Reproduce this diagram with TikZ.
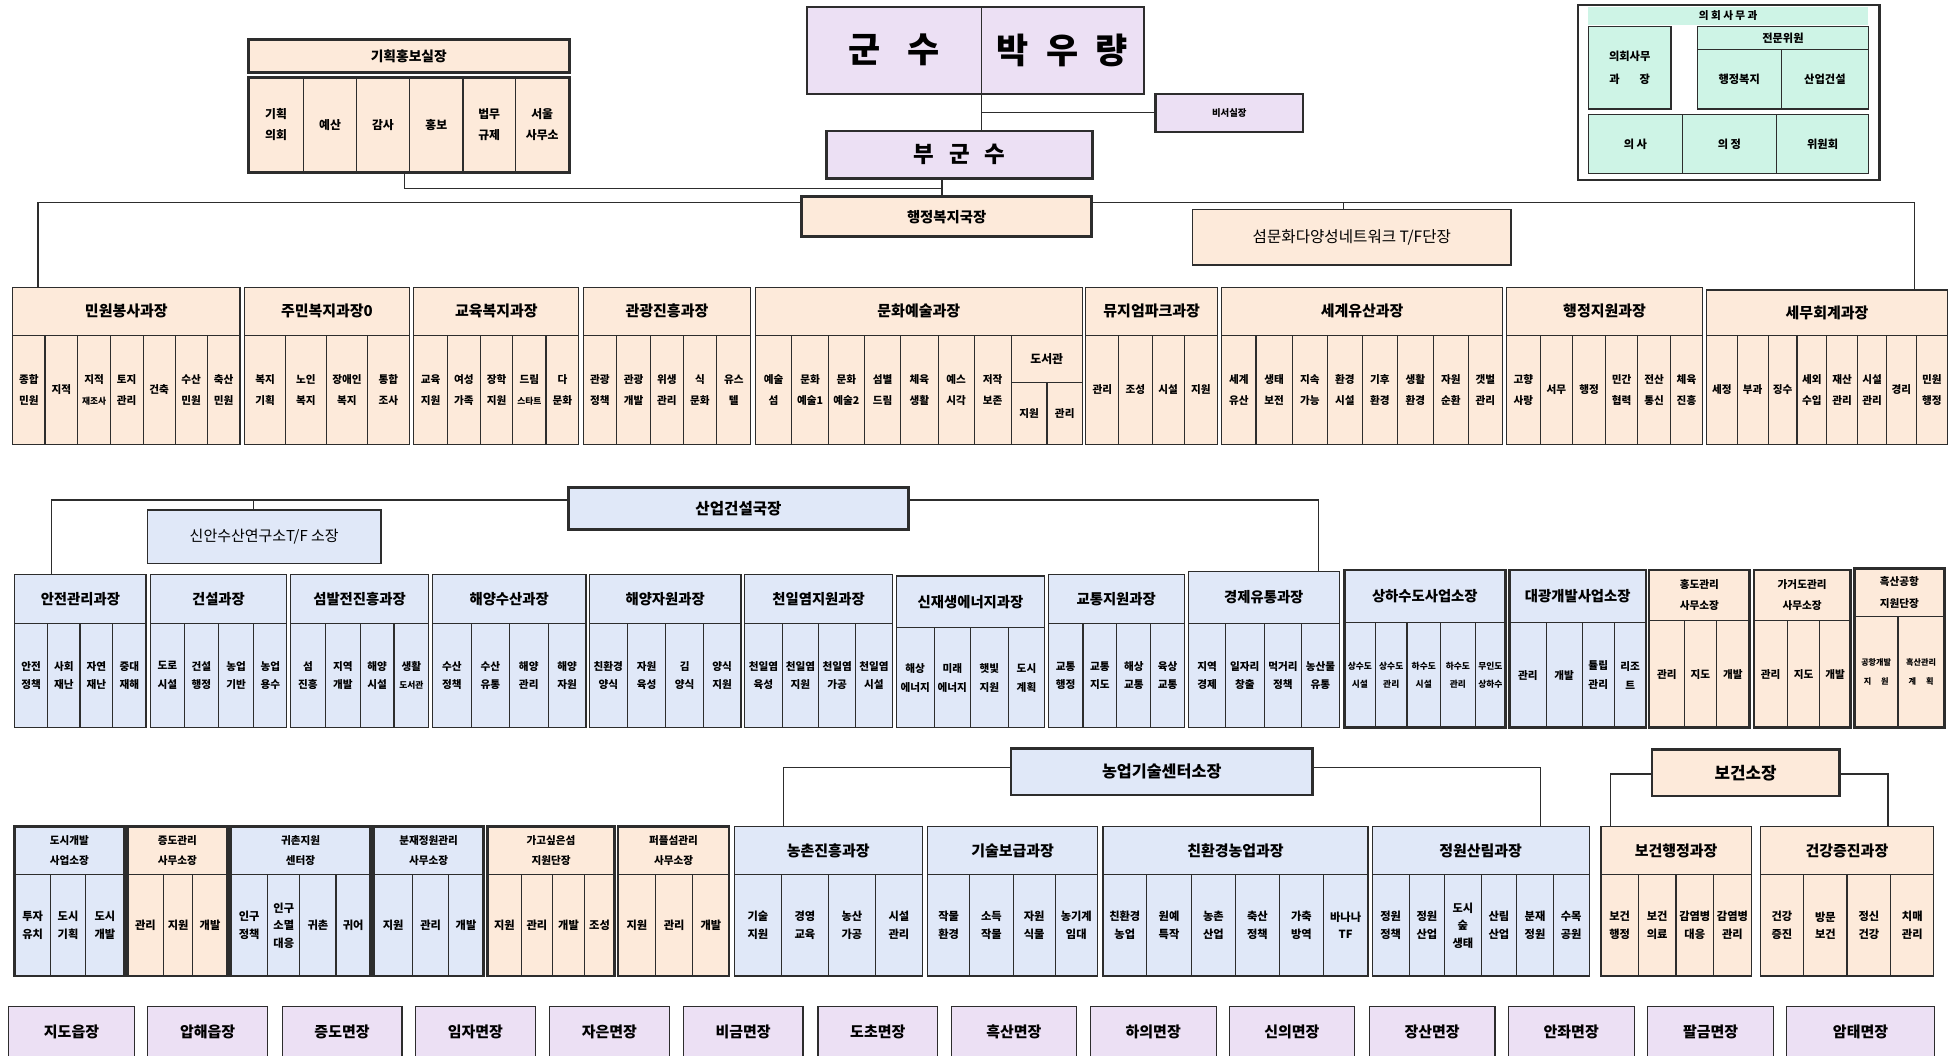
\documentclass[tikz,border=0pt]{standalone}
\usepackage{fontspec}
\setmainfont{Noto Sans CJK KR}
\definecolor{peach}{RGB}{253,234,218}
\definecolor{lav}{RGB}{236,224,244}
\definecolor{lblue}{RGB}{224,232,248}
\definecolor{mint}{RGB}{206,244,230}
\definecolor{ln}{RGB}{45,45,45}
\pgfdeclarelayer{bglayer}
\pgfdeclarelayer{connlayer}
\pgfsetlayers{bglayer,connlayer,main}
\newcommand{\myfs}[2]{\fontsize{#1}{#2}\selectfont}
\newcommand{\hfont}{\bfseries\myfs{12}{14}}
\newcommand{\cfont}{\bfseries\myfs{8}{16}}
\newcommand{\sm}[1]{{\myfs{7}{14}#1}}
\tikzset{
 box/.style={draw=ln,line width=0.9pt,anchor=north west,inner sep=0pt,outer sep=0pt,align=center},
 frame/.style={draw=ln,line width=2.2pt},
 conn/.style={draw=ln,line width=0.9pt},
}
% name, fill, x1, x2, y1, y2, font, text
\newcommand{\mknode}[8]{\node[box,fill=#2,font=#7,minimum width={((#4)-(#3))*1pt},minimum height={((#6)-(#5))*1pt}] (#1) at (#3,#5) {#8};}
% prefix, fill, y1, y2, list x1/x2/text
\newcommand{\mkcells}[5]{\foreach \xa/\xb/\txt [count=\i] in {#5}{\node[box,fill=#2,font=\cfont,minimum width={(\xb-\xa)*1pt},minimum height={((#4)-(#3))*1pt}] (#1-\i) at (\xa,#3) {\txt};}}
% name, fill, x1, x2, ytop, yhead, ybot, header, cells
\newcommand{\dept}[9]{\mknode{#1}{#2}{#3}{#4}{#5}{#6}{\hfont}{#8}\mkcells{#1}{#2}{#6}{#7}{#9}}
\begin{document}
\begin{tikzpicture}[x=1pt,y=-1pt]
\begin{pgfonlayer}{bglayer}\fill[white] (0,0) rectangle (1568,846);\end{pgfonlayer}
\useasboundingbox (0,0) rectangle (1568,846);

% ---------- top ----------
\mknode{gsl}{lav}{646.8}{786.2}{5.3}{75.3}{\bfseries\myfs{28}{30}}{군\hspace{22pt}수}
\mknode{gsr}{lav}{786.2}{916.3}{5.3}{75.3}{\bfseries\myfs{28}{30}}{박\hspace{14pt}우\hspace{14pt}량}
\draw[ln,line width=1.5pt] (gsl.north west) rectangle (gsr.south east);
\mknode{biseo}{lav}{925.9}{1044}{75.3}{105.5}{\bfseries\myfs{7.5}{9}}{비서실장}
\draw[ln,line width=1.8pt] (biseo.north west) rectangle (biseo.south east);
\mknode{bgs}{lav}{662.2}{875.2}{105}{142.9}{\bfseries\myfs{18}{20}}{부\hspace{12pt}군\hspace{12pt}수}
\draw[frame] (bgs.north west) rectangle (bgs.south east);
\mknode{hb}{peach}{642.4}{874.5}{157.6}{189.6}{\bfseries\myfs{11.5}{13}}{행정복지국장}
\draw[frame] (hb.north west) rectangle (hb.south east);
\mknode{smd}{peach}{955.6}{1210.6}{167.7}{212.3}{\myfs{12.5}{14}}{섬문화다양성네트워크 T/F단장}

\mknode{kh}{peach}{199}{456}{31.5}{58.2}{\bfseries\myfs{11}{13}}{기획홍보실장}
\renewcommand{\cfont}{\bfseries\myfs{9.5}{17}}
\mkcells{kh}{peach}{62}{138}{199/243.5/기획\\의회, 243.5/285.4/예산, 285.4/328.2/감사, 328.2/371/홍보, 371/412.9/법무\\규제, 412.9/456/서울\\사무소}
\draw[frame] (kh.north west) rectangle (kh.south east);
\draw[frame] (kh-1.north west) rectangle (kh-6.south east);

% council office
\node[box,fill=white,line width=2.2pt,minimum width=241.7pt,minimum height=140.2pt] (ui) at (1264.3,4) {};
\node[box,draw=none,fill=mint,font=\bfseries\myfs{8.5}{10},minimum width=223.9pt,minimum height=14.7pt] (uit) at (1272.7,5.3) {의 회 사 무 과};
\mknode{uil}{mint}{1272.7}{1338.8}{21.4}{87.3}{\bfseries\myfs{9}{18}}{의회사무\\과\hspace{16pt}장}
\mknode{uih}{mint}{1359.9}{1497.2}{21.4}{39.5}{\bfseries\myfs{9}{10}}{전문위원}
\mknode{uia}{mint}{1359.9}{1427.1}{39.5}{87.3}{\bfseries\myfs{9}{10}}{행정복지}
\mknode{uib}{mint}{1427.1}{1497.2}{39.5}{87.3}{\bfseries\myfs{9}{10}}{산업건설}
\mknode{uic}{mint}{1272.7}{1347.9}{91.6}{138.9}{\bfseries\myfs{9}{10}}{의 사}
\mknode{uid}{mint}{1347.9}{1423.4}{91.6}{138.9}{\bfseries\myfs{9}{10}}{의 정}
\mknode{uie}{mint}{1423.4}{1497.2}{91.6}{138.9}{\bfseries\myfs{9}{10}}{위원회}

% ---------- row 1 ----------
\renewcommand{\hfont}{\bfseries\myfs{12}{14}}
\renewcommand{\cfont}{\bfseries\myfs{8.5}{17}}
\dept{d1}{peach}{10.1}{192.3}{230.3}{268.5}{356.1}{민원봉사과장}{10.1/36.1/종합\\민원, 36.1/62.4/지적, 62.4/88.4/지적\\\sm{재조사}, 88.4/114.7/토지\\관리, 114.7/140.3/건축, 140.3/166/수산\\민원, 166/192.3/축산\\민원}
\dept{d2}{peach}{196}{327.9}{230.3}{268.5}{356.1}{주민복지과장0}{196/228.7/복지\\기획, 228.7/261.4/노인\\복지, 261.4/294.5/장애인\\복지, 294.5/327.9/통합\\조사}
\dept{d3}{peach}{331.6}{463.8}{230.3}{268.5}{356.1}{교육복지과장}{331.6/358.6/교육\\지원, 358.6/384.9/여성\\가족, 384.9/410.8/장학\\지원, 410.8/437.5/드림\\\sm{스타트}, 437.5/463.8/다\\문화}
\dept{d4}{peach}{467.2}{601.6}{230.3}{268.5}{356.1}{관광진흥과장}{467.2/494.2/관광\\정책, 494.2/521/관광\\개발, 521/547.5/위생\\관리, 547.5/574.2/식\\문화, 574.2/601.6/유스\\텔}
\dept{d5}{peach}{605}{867.3}{230.3}{268.5}{356.1}{문화예술과장}{605/634.5/예술\\섬, 634.5/663.6/문화\\예술1, 663.6/692.7/문화\\예술2, 692.7/721.8/섬별\\드림, 721.8/751.6/체육\\생활, 751.6/780.7/예스\\시각, 780.7/810.1/저작\\보존}
\mknode{lib}{peach}{810.1}{867.3}{268.5}{306.7}{\bfseries\myfs{9.5}{11}}{도서관}
\mkcells{lib}{peach}{306.7}{356.1}{810.1/838.9/지원, 838.9/867.3/관리}
\dept{d6}{peach}{870}{975.5}{230.3}{268.5}{356.1}{뮤지엄파크과장}{870/896.4/관리, 896.4/923.1/조성, 923.1/948.8/시설, 948.8/975.5/지원}
\dept{d7}{peach}{978.9}{1203.8}{230.3}{268.5}{356.1}{세계유산과장}{978.9/1006.3/세계\\유산, 1006.3/1035.4/생태\\보전, 1035.4/1063.5/지속\\가능, 1063.5/1091.4/환경\\시설, 1091.4/1119.6/기후\\환경, 1119.6/1148.5/생활\\환경, 1148.5/1176.3/자원\\순환, 1176.3/1203.8/갯벌\\관리}
\dept{d8}{peach}{1207.2}{1364}{230.3}{268.5}{356.1}{행정지원과장}{1207.2/1234.1/고향\\사랑, 1234.1/1259.9/서무, 1259.9/1286.4/행정, 1286.4/1312.3/민간\\협력, 1312.3/1338.5/전산\\통신, 1338.5/1364/체육\\진흥}
\dept{d9}{peach}{1367.3}{1560.4}{232.4}{268.5}{356.1}{세무회계과장}{1367.3/1391.8/세정, 1391.8/1416.7/부과, 1416.7/1439.8/징수, 1439.8/1463.7/세외\\수입, 1463.7/1488.2/재산\\관리, 1488.2/1511.7/시설\\관리, 1511.7/1535.2/경리, 1535.2/1560.4/민원\\행정}

% ---------- row 2 ----------
\mknode{sg}{lblue}{455.4}{728}{390.5}{424.1}{\bfseries\myfs{12.5}{14}}{산업건설국장}
\draw[frame] (sg.north west) rectangle (sg.south east);
\mknode{sf}{lblue}{118.1}{305.3}{408.6}{451.4}{\myfs{12}{13}}{신안수산연구소T/F 소장}
\renewcommand{\hfont}{\bfseries\myfs{11.5}{13}}
\renewcommand{\cfont}{\bfseries\myfs{8.5}{15}}
\dept{s1}{lblue}{11.8}{117}{460.2}{499.5}{583}{안전관리과장}{11.8/38.1/안전\\정책, 38.1/64.1/사회\\재난, 64.1/90.4/자연\\재난, 90.4/117/중대\\재해}
\dept{s2}{lblue}{120.4}{229.7}{460.2}{499.5}{583}{건설과장}{120.4/147.7/도로\\시설, 147.7/175.1/건설\\행정, 175.1/203.4/농업\\기반, 203.4/229.7/농업\\용수}
\dept{s3}{lblue}{232.7}{343.4}{460.2}{499.5}{583}{섬발전진흥과장}{232.7/260.7/섬\\진흥, 260.7/288.7/지역\\개발, 288.7/315.7/해양\\시설, 315.7/343.4/생활\\\sm{도서관}}
\dept{s4}{lblue}{346.4}{469.5}{460.2}{499.5}{583}{해양수산과장}{346.4/377.8/수산\\정책, 377.8/408.1/수산\\유통, 408.1/439.2/해양\\관리, 439.2/469.5/해양\\자원}
\dept{s5}{lblue}{472.2}{593.7}{460.2}{499.5}{583}{해양자원과장}{472.2/502.6/친환경\\양식, 502.6/533.5/자원\\육성, 533.5/563.6/김\\양식, 563.6/593.7/양식\\지원}
\dept{s6}{lblue}{596.8}{715}{460.2}{499.5}{583}{천일염지원과장}{596.8/626.6/천일염\\육성, 626.6/656.1/천일염\\지원, 656.1/685.5/천일염\\가공, 685.5/715/천일염\\시설}
\dept{s7}{lblue}{718}{837.2}{461.5}{503.1}{583}{신재생에너지과장}{718/748.5/해상\\에너지, 748.5/777.6/미래\\에너지, 777.6/807.7/햇빛\\지원, 807.7/837.2/도시\\계획}
\dept{s8}{lblue}{839.9}{948.8}{460.2}{499.5}{583}{교통지원과장}{839.9/867.7/교통\\행정, 867.7/894.7/교통\\지도, 894.7/922.1/해상\\교통, 922.1/948.8/육상\\교통}
\dept{s9}{lblue}{952.2}{1073}{458}{499.5}{583}{경제유통과장}{952.2/982/지역\\경제, 982/1012.8/일자리\\창출, 1012.8/1043/먹거리\\정책, 1043/1073/농산물\\유통}
\renewcommand{\cfont}{\bfseries\myfs{7}{15}}
\dept{s10}{lblue}{1077}{1206.2}{456.7}{498.9}{583}{상하수도사업소장}{1077/1102.1/상수도\\시설, 1102.1/1127.3/상수도\\관리, 1127.3/1154.2/하수도\\시설, 1154.2/1182/하수도\\관리, 1182/1206.2/무인도\\상하수}
\renewcommand{\cfont}{\bfseries\myfs{8.5}{15}}
\dept{s11}{lblue}{1209.6}{1318.7}{456.7}{498.9}{583}{대광개발사업소장}{1209.6/1238.8/관리, 1238.8/1267.6/개발, 1267.6/1293.5/튤립\\관리, 1293.5/1318.7/리조\\트}
\renewcommand{\hfont}{\bfseries\myfs{8.5}{17}}
\dept{s12}{peach}{1321.3}{1401.9}{456.7}{497.3}{583}{홍도관리\\사무소장}{1321.3/1349.9/관리, 1349.9/1375/지도, 1375/1401.9/개발}
\dept{s13}{peach}{1405.3}{1482.5}{456.7}{497.3}{583}{가거도관리\\사무소장}{1405.3/1432.1/관리, 1432.1/1458/지도, 1458/1482.5/개발}
\renewcommand{\cfont}{\bfseries\myfs{6.5}{15}}
\dept{s14}{peach}{1485.8}{1557.7}{455.4}{494.1}{583}{흑산공항\\지원단장}{1485.8/1520.7/공항개발\\지\hspace{8pt}원, 1520.7/1557.7/흑산관리\\계\hspace{8pt}획}
\foreach \n/\k in {s10/5,s11/4,s12/3,s13/3,s14/2}{\draw[frame] (\n.north west) rectangle (\n-\k.south east);}

% ---------- row 3 ----------
\mknode{ng}{lblue}{810.1}{1051.5}{599.6}{637}{\bfseries\myfs{13}{14}}{농업기술센터소장}
\draw[frame] (ng.north west) rectangle (ng.south east);
\mknode{bj}{peach}{1323.7}{1473.7}{600.4}{637.8}{\bfseries\myfs{13.5}{15}}{보건소장}
\draw[frame] (bj.north west) rectangle (bj.south east);
\renewcommand{\hfont}{\bfseries\myfs{8.5}{16}}
\renewcommand{\cfont}{\bfseries\myfs{9}{14}}
\dept{t1}{lblue}{11.8}{99.5}{662}{701}{782}{도시개발\\사업소장}{11.8/40.5/투자\\유치, 40.5/68.5/도시\\기획, 68.5/99.5/도시\\개발}
\dept{t2}{peach}{102.2}{182.1}{662}{701}{782}{증도관리\\사무소장}{102.2/130.9/관리, 130.9/154.5/지원, 154.5/182.1/개발}
\dept{t3}{lblue}{184.8}{296.8}{662}{701}{782}{귀촌지원\\센터장}{184.8/214.5/인구\\정책, 214.5/240.2/인구\\소멸\\대응, 240.2/269.2/귀촌, 269.2/296.8/귀어}
\dept{t4}{lblue}{299.5}{387.2}{662}{701}{782}{분재정원관리\\사무소장}{299.5/330.6/지원, 330.6/359.6/관리, 359.6/387.2/개발}
\dept{t5}{peach}{390.6}{492.5}{662}{701}{782}{가고싶은섬\\지원단장}{390.6/417.6/지원, 417.6/442.9/관리, 442.9/468.2/개발, 468.2/492.5/조성}
\dept{t6}{peach}{495.2}{584.1}{662}{701}{782}{퍼플섬관리\\사무소장}{495.2/525.3/지원, 525.3/555/관리, 555/584.1/개발}
\foreach \n/\k in {t1/3,t2/3,t3/4,t4/3,t5/4,t6/3}{\draw[frame] (\n.north west) rectangle (\n-\k.south east);}
\renewcommand{\hfont}{\bfseries\myfs{12}{14}}
\dept{t7}{lblue}{588.3}{738.9}{662}{701}{782}{농촌진흥과장}{588.3/626.3/기술\\지원, 626.3/663.6/경영\\교육, 663.6/701.6/농산\\가공, 701.6/738.9/시설\\관리}
\dept{t8}{lblue}{743.4}{879.3}{662}{701}{782}{기술보급과장}{743.4/776.9/작물\\환경, 776.9/811.9/소득\\작물, 811.9/845.4/자원\\식물, 845.4/879.3/농기계\\임대}
\dept{t9}{lblue}{883.7}{1096.1}{662}{701}{782}{친환경농업과장}{883.7/918.7/친환경\\농업, 918.7/954.6/원예\\특작, 954.6/989.9/농촌\\산업, 989.9/1025.1/축산\\정책, 1025.1/1060.2/가축\\방역, 1060.2/1096.1/바나나\\TF}
\dept{t10}{lblue}{1099.4}{1273.3}{662}{701}{782}{정원산림과장}{1099.4/1129/정원\\정책, 1129/1157.5/정원\\산업, 1157.5/1186.7/도시\\숲\\생태, 1186.7/1215.3/산림\\산업, 1215.3/1244.5/분재\\정원, 1244.5/1273.3/수목\\공원}
\dept{t11}{peach}{1282.7}{1403.2}{662}{701}{782}{보건행정과장}{1282.7/1312.6/보건\\행정, 1312.6/1342.8/보건\\의료, 1342.8/1373/감염병\\대응, 1373/1403.2/감염병\\관리}
\dept{t12}{peach}{1410.3}{1549.3}{662}{701}{782}{건강증진과장}{1410.3/1445.2/건강\\증진, 1445.2/1479.8/방문\\보건, 1479.8/1515/정신\\건강, 1515/1549.3/치매\\관리}

% ---------- bottom row ----------
\foreach \xa/\xb/\txt [count=\i] in {6.7/107.9/지도읍장, 118.1/214.5/압해읍장, 226/322.1/증도면장, 332.9/429/임자면장, 440.2/536.2/자은면장, 547.5/643.4/비금면장, 655.4/751.2/도초면장, 762.2/862.5/흑산면장, 873.5/974.5/하의면장, 984.8/1085.3/신의면장, 1097.1/1197.8/장산면장, 1208.5/1309.3/안좌면장, 1320.3/1421/팔금면장, 1431.1/1550.3/암태면장}{\mknode{m\i}{lav}{\xa}{\xb}{806.5}{847}{\bfseries\myfs{12}{14}}{\txt}}

% ---------- connectors ----------
\begin{pgfonlayer}{connlayer}
\draw[conn] (gsl.south east) -- (gsl.south east |- bgs.north);
\draw[conn] (biseo.west) -- (biseo.west -| gsl.south east);
\coordinate (bv) at (754.7,151.2);
\draw[conn] (bv |- bgs.south) -- (bv |- hb.north);
\coordinate (kv) at (323.8,151.2);
\draw[conn] (kv |- kh-1.south) -- (kv) -- (bv);
\coordinate (busl) at (30.4,162.1);
\coordinate (busr) at (1534.2,162.1);
\draw[conn] (busl |- d1.north) -- (busl) -- (busr) -- (busr |- d9.north);
\coordinate (smc) at (1076.3,162.1);
\draw[conn] (smc) -- (smc |- smd.north);
\coordinate (sbl) at (41.2,400.6);
\coordinate (sbr) at (1056.7,400.6);
\draw[conn] (sbl |- s1.north) -- (sbl) -- (sbr) -- (sbr |- s9.north);
\coordinate (sfc) at (203.4,400.6);
\draw[conn] (sfc) -- (sfc |- sf.north);
\coordinate (nl) at (627.6,614.8);
\draw[conn] (nl -| ng.west) -- (nl) -- (nl |- t7.north);
\coordinate (nr) at (1234.1,614.8);
\draw[conn] (nr -| ng.east) -- (nr) -- (nr |- t10.north);
\coordinate (hl) at (1290.1,620.1);
\draw[conn] (hl -| bj.west) -- (hl) -- (hl |- t11.north);
\coordinate (hr) at (1512.7,620.1);
\draw[conn] (hr -| bj.east) -- (hr) -- (hr |- t12.north);
\end{pgfonlayer}
\end{tikzpicture}
\end{document}
